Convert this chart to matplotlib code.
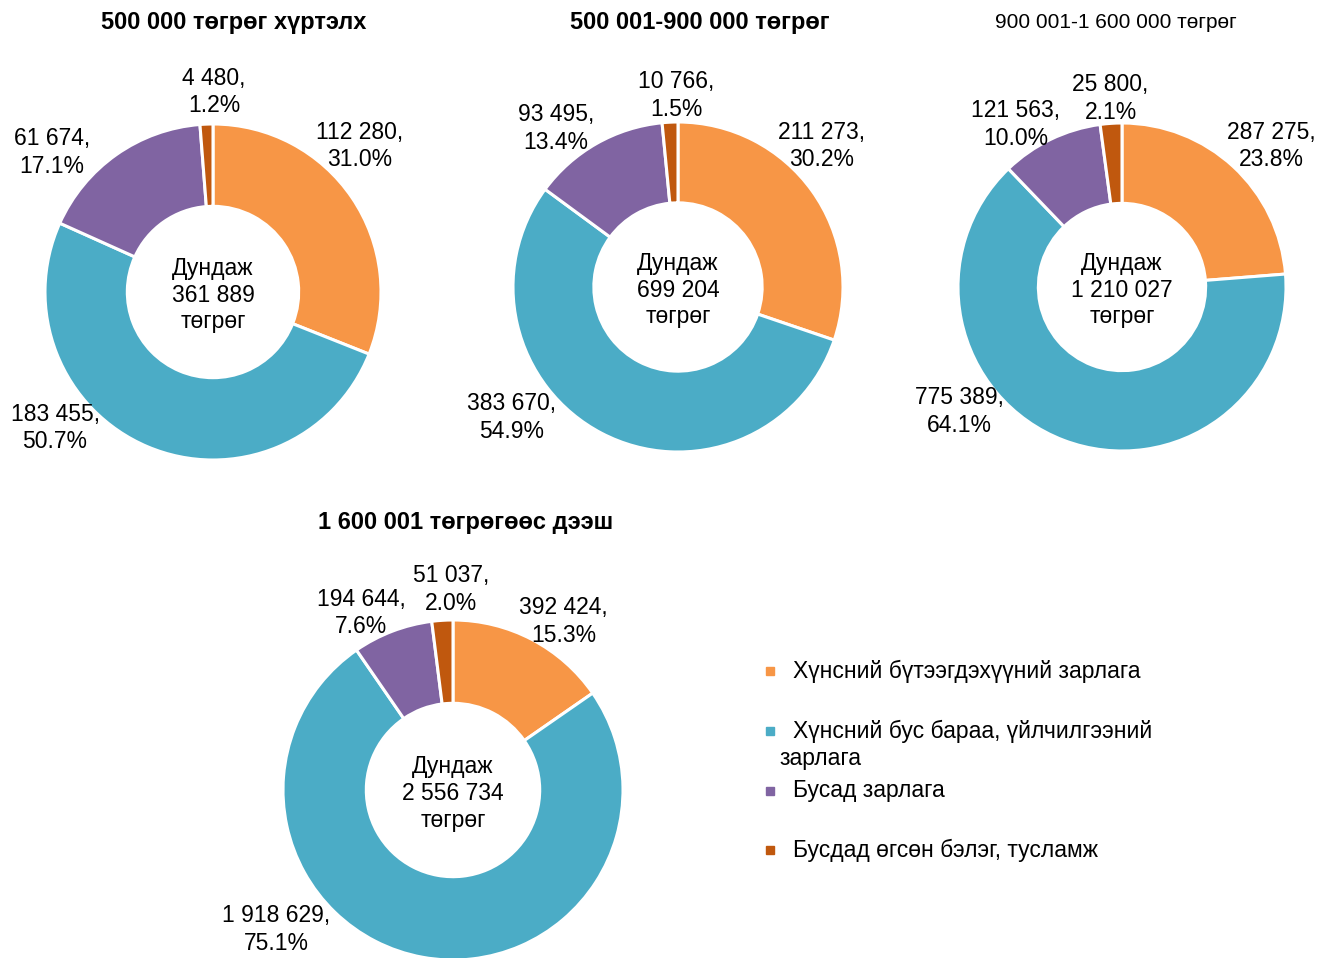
import matplotlib.pyplot as plt
import matplotlib.patches as mpatches

plt.rcParams['font.family'] = ['Liberation Sans', 'DejaVu Sans']

#data
titles = ['500 000 төгрөг хүртэлх', '500 001-900 000 төгрөг',
          '900 001-1 600 000 төгрөг', '1 600 001 төгрөгөөс дээш']
categories = ['Хүнсний бүтээгдэхүүний зарлага',
              'Хүнсний бус бараа, үйлчилгээний зарлага',
              'Бусад зарлага',
              'Бусдад өгсөн бэлэг, тусламж']
values = [[112280, 183455, 61674, 4480],
          [211273, 383670, 93495, 10766],
          [287275, 775389, 121563, 25800],
          [392424, 1918629, 194644, 51037]]
shares = [['31.0%', '50.7%', '17.1%', '1.2%'],
          ['30.2%', '54.9%', '13.4%', '1.5%'],
          ['23.8%', '64.1%', '10.0%', '2.1%'],
          ['15.3%', '75.1%', '7.6%', '2.0%']]
averages = ['361 889', '699 204', '1 210 027', '2 556 734']

colors = ['#F79646', '#4BACC6', '#8064A2', '#C0580E']

#layout (pixels): center x, center y, radius
W, H = 1335, 958
boxes = [(213, 292, 168), (678, 287, 165), (1122, 287, 164), (453, 790, 170)]
title_pos = [(234, 22, 'bold'), (700, 22, 'bold'), (1116, 22, 'normal'), (466, 522, 'bold')]
# label offsets in radius units (dx, dy)
label_off = [[(0.875, 0.87), (-0.94, -0.81), (-0.96, 0.83), (0.006, 1.19)],
             [(0.87, 0.855), (-1.01, -0.79), (-0.74, 0.96), (-0.01, 1.16)],
             [(0.91, 0.86), (-0.99, -0.76), (-0.65, 0.99), (-0.07, 1.15)],
             [(0.65, 0.99), (-1.04, -0.82), (-0.54, 1.04), (-0.01, 1.18)]]

def fmt(v):
    return '{:,}'.format(v).replace(',', ' ')

fig = plt.figure(figsize=(W/100, H/100), dpi=100)

for i in range(4):
    cx, cy, r = boxes[i]
    ax = fig.add_axes([(cx-r)/W, (H-cy-r)/H, 2*r/W, 2*r/H])
    ax.pie(values[i], colors=colors, startangle=90, counterclock=False,
           radius=1, wedgeprops=dict(width=0.49, edgecolor='white', linewidth=2.2))
    ax.set_xlim(-1, 1)
    ax.set_ylim(-1, 1)
    ax.axis('off')
    for j in range(4):
        dx, dy = label_off[i][j]
        ax.text(dx, dy, fmt(values[i][j]) + ',\n' + shares[i][j], ha='center', va='center',
                fontsize=16.5, linespacing=1.25, clip_on=False)
    ax.text(0, -0.02, 'Дундаж\n' + averages[i] + '\nтөгрөг', ha='center', va='center',
            fontsize=16.5, linespacing=1.2)
    tx, ty, tw = title_pos[i]
    fig.text(tx/W, 1-ty/H, titles[i], ha='center', va='center',
             fontsize=17 if tw == 'bold' else 15, fontweight=tw)

#legend
leg_y = [671, 731, 791, 850]
leg_txt = ['Хүнсний бүтээгдэхүүний зарлага', 'Хүнсний бус бараа, үйлчилгээний',
           'Бусад зарлага', 'Бусдад өгсөн бэлэг, тусламж']
for k in range(4):
    fig.add_artist(mpatches.Rectangle(((766)/W, 1-(leg_y[k]+4)/H), 8/W, 8/H,
                                      color=colors[k], transform=fig.transFigure))
    fig.text(793/W, 1-leg_y[k]/H, leg_txt[k], ha='left', va='center', fontsize=16.5)
fig.text(780/W, 1-758/H, 'зарлага', ha='left', va='center', fontsize=16.5)

plt.savefig('out.png', dpi=100)
